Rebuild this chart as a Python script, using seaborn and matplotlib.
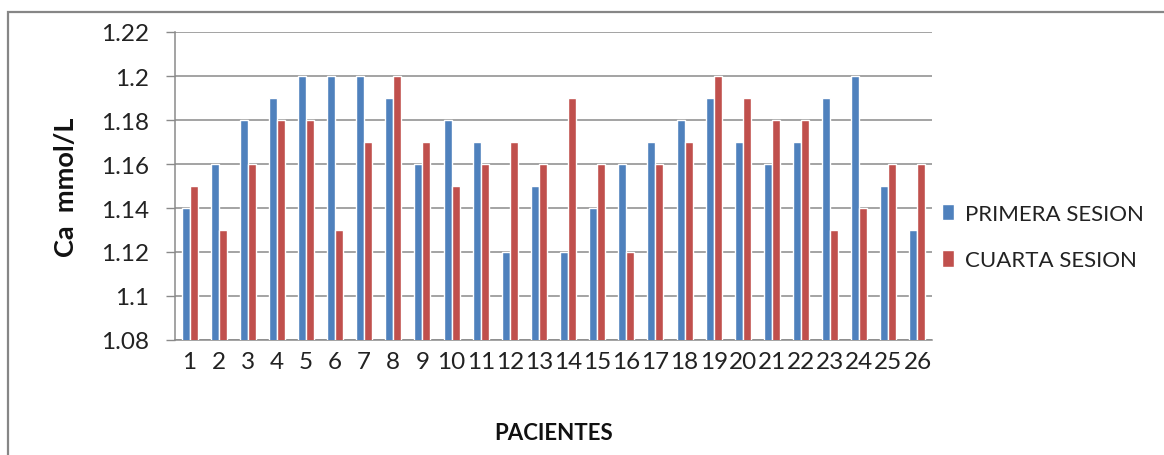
import numpy as np
import pandas as pd
import matplotlib
matplotlib.use("Agg")
import matplotlib.pyplot as plt
from matplotlib.patches import Rectangle
import seaborn as sns

# Calcium values per patient, first and fourth session
pacientes = [str(i) for i in range(1, 27)]
primera_sesion = [1.14, 1.16, 1.18, 1.19, 1.20, 1.20, 1.20, 1.19, 1.16, 1.18,
                  1.17, 1.12, 1.15, 1.12, 1.14, 1.16, 1.17, 1.18, 1.19, 1.17,
                  1.16, 1.17, 1.19, 1.20, 1.15, 1.13]
cuarta_sesion = [1.15, 1.13, 1.16, 1.18, 1.18, 1.13, 1.17, 1.20, 1.17, 1.15,
                 1.16, 1.17, 1.16, 1.19, 1.16, 1.12, 1.16, 1.17, 1.20, 1.19,
                 1.18, 1.18, 1.13, 1.14, 1.16, 1.16]
series_names = ["PRIMERA SESION", "CUARTA SESION"]
y_ticks = [1.08, 1.10, 1.12, 1.14, 1.16, 1.18, 1.20, 1.22]
y_tick_labels = ["1.08", "1.1", "1.12", "1.14", "1.16", "1.18", "1.2", "1.22"]

df = pd.DataFrame({
    "paciente": pacientes * 2,
    "valor": primera_sesion + cuarta_sesion,
    "sesion": [series_names[0]] * len(pacientes) + [series_names[1]] * len(pacientes),
})

sns.set_theme(style="white")
plt.rcParams["font.family"] = ["Lato", "DejaVu Sans"]

W, H = 1164, 456
fig = plt.figure(figsize=(W / 100, H / 100), dpi=100)
ax = fig.add_axes([175 / W, 1 - 341 / H, (932 - 175) / W, (341 - 33) / H])

palette = {series_names[0]: "#4F81BD", series_names[1]: "#C0504D"}
sns.barplot(data=df, x="paciente", y="valor", hue="sesion", order=pacientes,
            hue_order=series_names, palette=palette, saturation=1,
            width=0.55, gap=0, ax=ax, legend=True, zorder=3)

ax.set_ylim(1.08, 1.22)
ax.set_xlim(-0.5, len(pacientes) - 0.5)
ax.set_yticks(y_ticks)
ax.set_yticklabels(y_tick_labels)
ax.yaxis.grid(True, color="#8a8a8a", linewidth=1.1, zorder=0)
ax.set_axisbelow(True)

for side in ["top", "right"]:
    ax.spines[side].set_visible(False)
for side in ["left", "bottom"]:
    ax.spines[side].set_color("#8a8a8a")
    ax.spines[side].set_linewidth(1.1)

ax.tick_params(axis="y", which="both", left=True, length=6.5, width=1.0,
               color="#8a8a8a", pad=12, labelsize=17.5, labelcolor="#222222")
ax.tick_params(axis="x", bottom=False, pad=2, labelsize=17.5, labelcolor="#222222")

ax.set_xlabel("PACIENTES", fontsize=16, fontweight="bold", color="#111111", labelpad=36)
ax.set_ylabel("Ca  mmol/L", fontsize=19.5, fontweight="bold", color="#111111", labelpad=17)

handles, labels = ax.get_legend_handles_labels()
ax.get_legend().remove()
fig.legend(handles, labels, loc="center left", bbox_to_anchor=(922 / W, 1 - 238 / H),
           frameon=False, fontsize=16, handlelength=0.55, handleheight=0.75,
           handletextpad=0.5, labelspacing=1.2, labelcolor="#222222")

# outer chart border (top and left edges visible)
fig.patches.append(Rectangle((8 / W, -0.1), 1.2, 1 - 13 / H + 0.1,
                             transform=fig.transFigure, fill=False,
                             edgecolor="#868686", linewidth=1.6, zorder=0))

fig.savefig("out.png", dpi=100)
